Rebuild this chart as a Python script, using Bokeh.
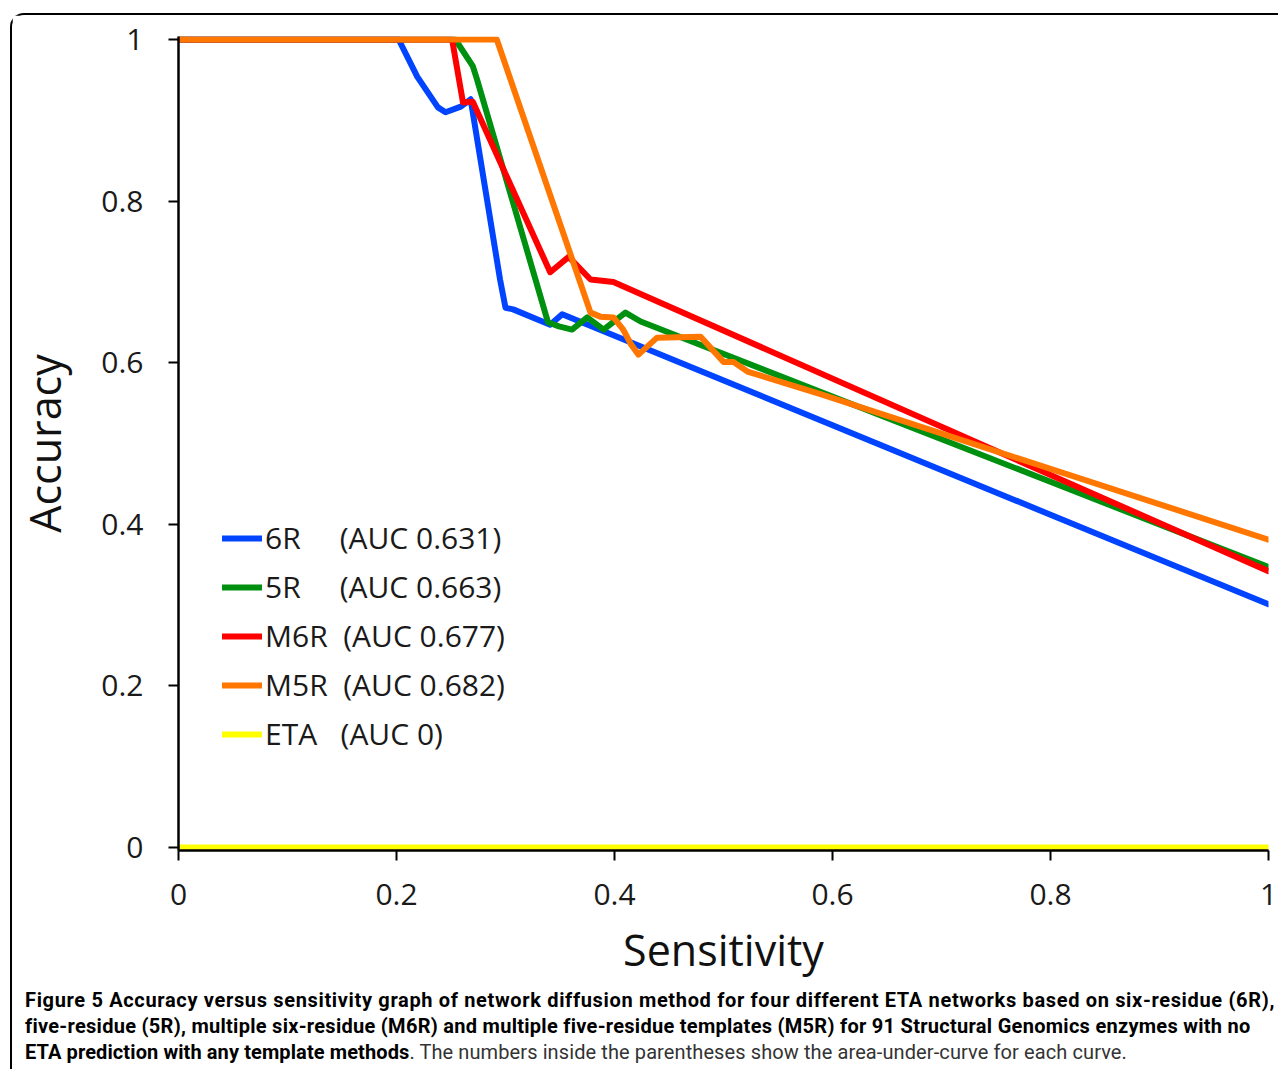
from bokeh.plotting import figure
from bokeh.models import Legend, LegendItem, Range1d, FixedTicker, Div
from bokeh.layouts import column
from bokeh.embed import file_html
from bokeh.resources import INLINE

# ---- data ----
sens_6r = [0, 0.202, 0.219, 0.238, 0.245, 0.259, 0.268, 0.295, 0.300, 0.307, 0.341, 0.352, 1.0]
acc_6r = [1, 1, 0.954, 0.916, 0.910, 0.917, 0.926, 0.703, 0.668, 0.666, 0.647, 0.660, 0.301]

sens_5r = [0, 0.254, 0.270, 0.274, 0.339, 0.349, 0.361, 0.375, 0.390, 0.410, 0.424, 1.0]
acc_5r = [1, 1, 0.967, 0.950, 0.650, 0.645, 0.641, 0.656, 0.641, 0.662, 0.651, 0.347]

sens_m6r = [0, 0.251, 0.261, 0.270, 0.341, 0.358, 0.378, 0.399, 1.0]
acc_m6r = [1, 1, 0.922, 0.923, 0.712, 0.731, 0.703, 0.700, 0.342]

sens_m5r = [0, 0.292, 0.378, 0.387, 0.399, 0.408, 0.415, 0.422, 0.439, 0.479, 0.500, 0.509, 0.522, 0.589, 1.0]
acc_m5r = [1, 1, 0.662, 0.657, 0.656, 0.641, 0.623, 0.610, 0.631, 0.632, 0.601, 0.601, 0.589, 0.561, 0.381]

sens_eta = [0, 1]
acc_eta = [0, 0]

series_labels = ["6R\u00a0\u00a0\u00a0\u00a0\u00a0(AUC 0.631)",
                 "5R\u00a0\u00a0\u00a0\u00a0\u00a0(AUC 0.663)",
                 "M6R\u00a0\u00a0(AUC 0.677)",
                 "M5R\u00a0\u00a0(AUC 0.682)",
                 "ETA\u00a0\u00a0\u00a0(AUC 0)"]
series_colors = ["#0044ff", "#009010", "#ff0000", "#ff7700", "#ffff00"]

x_ticks = [0, 0.2, 0.4, 0.6, 0.8, 1]
x_tick_labels = ["0", "0.2", "0.4", "0.6", "0.8", "1"]
y_ticks = [0, 0.2, 0.4, 0.6, 0.8, 1]
y_tick_labels = ["0", "0.2", "0.4", "0.6", "0.8", "1"]

caption_line1 = "Figure 5 Accuracy versus sensitivity graph of network diffusion method for four different ETA networks based on six-residue (6R),"
caption_line2 = "five-residue (5R), multiple six-residue (M6R) and multiple five-residue templates (M5R) for 91 Structural Genomics enzymes with no"
caption_line3_bold = "ETA prediction with any template methods"
caption_line3_plain = ". The numbers inside the parentheses show the area-under-curve for each curve."

FONT = "Open Sans"

p = figure(frame_width=1090, frame_height=814,
           x_range=Range1d(0, 1), y_range=Range1d(-3 / 808, 1 + 3 / 808),
           output_backend="svg", toolbar_location=None,
           min_border_left=150, min_border_right=9, min_border_top=21, min_border_bottom=124)
p.outline_line_color = None
p.grid.visible = False
p.background_fill_color = "white"
p.border_fill_color = "white"

xs = [sens_6r, sens_5r, sens_m6r, sens_m5r, sens_eta]
ys = [acc_6r, acc_5r, acc_m6r, acc_m5r, acc_eta]
order = [4, 0, 1, 2, 3]
renderers = [None] * 5
for i in order:
    renderers[i] = p.line(xs[i], ys[i], line_color=series_colors[i], line_width=6,
                          line_join="round", line_cap="round")

p.xaxis.ticker = FixedTicker(ticks=x_ticks)
p.yaxis.ticker = FixedTicker(ticks=y_ticks)
p.xaxis.major_label_overrides = dict(zip(x_ticks, x_tick_labels))
p.yaxis.major_label_overrides = dict(zip(y_ticks, y_tick_labels))

for ax in (p.xaxis[0], p.yaxis[0]):
    ax.axis_line_width = 2.5
    ax.axis_line_color = "black"
    ax.major_tick_line_width = 2
    ax.major_tick_line_color = "black"
    ax.major_tick_out = 10
    ax.major_tick_in = 0
    ax.minor_tick_line_color = None
    ax.major_label_text_font = FONT
    ax.major_label_text_font_size = "30px"
    ax.major_label_text_color = "#1a1a1a"
    ax.axis_label_text_font = FONT
    ax.axis_label_text_font_size = "43px"
    ax.axis_label_text_font_style = "normal"
    ax.axis_label_text_color = "#111111"

p.xaxis.axis_label = "Sensitivity"
p.yaxis.axis_label = "Accuracy"
p.xaxis.major_label_standoff = 23
p.yaxis.major_label_standoff = 25
p.xaxis.axis_label_standoff = 12
p.yaxis.axis_label_standoff = 24

legend = Legend(items=[LegendItem(label=series_labels[i], renderers=[renderers[i]]) for i in range(5)],
                location=(44, 96), glyph_width=40, glyph_height=40, label_height=40,
                spacing=8, padding=0, margin=0, label_standoff=3,
                border_line_alpha=0, background_fill_alpha=0,
                label_text_font=FONT, label_text_font_size="30px", label_text_color="#1a1a1a")
p.add_layout(legend)

div = Div(text=('<div style="font-family:Roboto; font-size:20px; line-height:26px; white-space:nowrap;'
                ' padding-left:8px; padding-top:1px; color:#000;">'
                '<b style="letter-spacing:0.66px;">' + caption_line1 + '</b><br>'
                '<b style="letter-spacing:0.28px;">' + caption_line2 + '</b><br>'
                '<span style="letter-spacing:0.1px;"><b>' + caption_line3_bold + '</b>'
                '<span style="color:#333;">' + caption_line3_plain + '</span></span></div>'),
          width=1256, height=82)

layout = column(p, div, styles={"border-top": "2px solid black", "border-left": "2px solid black",
                                 "border-top-left-radius": "14px", "margin-left": "10px", "margin-top": "13px",
                                 "background": "white"})

open("out.html", "w").write(file_html(layout, INLINE))
